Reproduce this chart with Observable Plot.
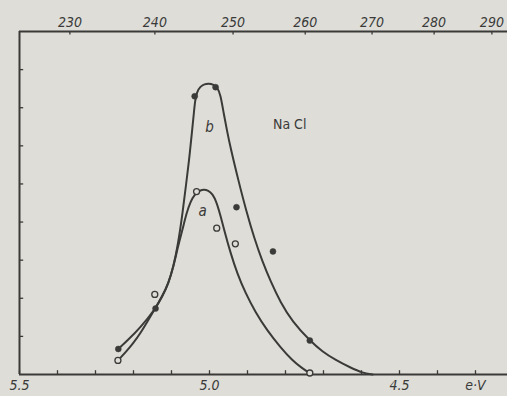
<!DOCTYPE html>
<html>
<head>
<meta charset="utf-8">
<script src="https://cdn.jsdelivr.net/npm/d3@7"></script>
<script src="https://cdn.jsdelivr.net/npm/@observablehq/plot@0.6"></script>
<style>
  html, body { margin: 0; padding: 0; background: #deddd8; }
  #chart { width: 507px; height: 396px; }
</style>
</head>
<body>
<div id="chart"></div>
<script>
// ---- data ----
// measured points, curve b (filled dots): photon energy (eV), intensity (arb. units)
const bEnergy = [5.240, 5.142, 5.039, 4.984, 4.929, 4.833, 4.736];
const bValue  = [0.67, 1.73, 7.30, 7.54, 4.39, 3.23, 0.89];
// measured points, curve a (open circles)
const aEnergy = [5.241, 5.144, 5.034, 4.981, 4.932, 4.736];
const aValue  = [0.37, 2.10, 4.80, 3.84, 3.43, 0.04];

// drawn smooth curve b
const bCurveEnergy = [5.240, 5.216, 5.182, 5.142, 5.124, 5.108, 5.095, 5.083, 5.071, 5.061, 5.053, 5.046, 5.041, 5.038, 5.033, 5.024, 5.013, 5.003, 4.989, 4.979, 4.971, 4.963, 4.954, 4.945, 4.924, 4.903, 4.882, 4.861, 4.839, 4.813, 4.782, 4.736, 4.703, 4.668, 4.629, 4.597, 4.571];
const bCurveValue  = [0.67, 0.89, 1.23, 1.73, 2.05, 2.39, 2.83, 3.41, 4.22, 5.04, 5.69, 6.38, 6.87, 7.19, 7.42, 7.56, 7.62, 7.64, 7.61, 7.53, 7.34, 6.87, 6.40, 5.96, 5.09, 4.28, 3.57, 2.97, 2.44, 1.89, 1.39, 0.89, 0.60, 0.38, 0.18, 0.04, 0.0];
// drawn smooth curve a
const aCurveEnergy = [5.241, 5.221, 5.200, 5.182, 5.164, 5.142, 5.124, 5.108, 5.095, 5.083, 5.071, 5.061, 5.050, 5.039, 5.029, 5.016, 5.003, 4.992, 4.982, 4.971, 4.961, 4.945, 4.927, 4.905, 4.879, 4.848, 4.813, 4.782, 4.758, 4.737];
const aCurveValue  = [0.37, 0.58, 0.83, 1.08, 1.38, 1.75, 2.06, 2.40, 2.82, 3.36, 3.80, 4.22, 4.54, 4.72, 4.81, 4.86, 4.83, 4.74, 4.54, 4.17, 3.78, 3.20, 2.65, 2.13, 1.63, 1.15, 0.71, 0.37, 0.18, 0.04];

// axis ticks
const bottomTicks = [5.5, 5.4, 5.3, 5.2, 5.1, 5.0, 4.9, 4.8, 4.7, 4.6, 4.5, 4.4, 4.3];
const bottomLabelTicks = [5.5, 5.0, 4.5, 4.3];
const bottomLabels = ["5.5", "5.0", "4.5", "e·V"];
const topWavelengths = [230, 240, 250, 260, 270, 280, 290]; // nm
const leftTicks = [1, 2, 3, 4, 5, 6, 7, 8];

// in-plot annotations
const noteText = ["b", "a", "Na Cl"];
const noteEnergy = [5.0, 5.018, 4.789];
const noteValue = [6.48, 4.28, 6.57];
const noteItalic = [true, true, false];

// ---- build tables ----
const hc = 1234.5; // eV·nm (12345 eV·Å)
const topTicks = topWavelengths.map(l => hc / l);
const bPts = bEnergy.map((e, i) => ({e, v: bValue[i]}));
const aPts = aEnergy.map((e, i) => ({e, v: aValue[i]}));
const bCurve = bCurveEnergy.map((e, i) => ({e, v: bCurveValue[i]}));
const aCurve = aCurveEnergy.map((e, i) => ({e, v: aCurveValue[i]}));
const notes = noteText.map((t, i) => ({t, e: noteEnergy[i], v: noteValue[i], it: noteItalic[i]}));

const ink = "#3a3a38";
const bg = "#deddd8";
const font = "'DejaVu Sans Condensed', 'DejaVu Sans', sans-serif";

const chart = Plot.plot({
  width: 507,
  height: 396,
  marginLeft: 19,
  marginRight: 0,
  marginTop: 31,
  marginBottom: 22,
  style: {background: bg, color: ink, fontFamily: font},
  x: {domain: [5.5, 4.2158], axis: null, label: null},
  y: {domain: [0, 9], axis: null, label: null},
  marks: [
    // frame
    Plot.ruleX([5.5], {y1: 0, y2: 9, stroke: ink, strokeWidth: 2}),
    Plot.ruleY([0, 9], {x1: 5.5, x2: 4.2158, stroke: ink, strokeWidth: 2}),
    // inward ticks
    Plot.ruleX(bottomTicks, {x: d => d, y1: 0, y2: 0.1, stroke: ink, strokeWidth: 1.3}),
    Plot.ruleX(topTicks, {x: d => d, y1: 9, y2: 8.91, stroke: ink, strokeWidth: 1.3}),
    Plot.ruleY(leftTicks, {y: d => d, x1: 5.5, x2: 5.489, stroke: ink, strokeWidth: 1.3}),
    // axis labels
    Plot.axisX(bottomLabelTicks, {anchor: "bottom", label: null, tickSize: 0, tickPadding: 6,
      tickFormat: d => bottomLabels[bottomLabelTicks.indexOf(d)],
      fontSize: 14, fontStyle: "italic", fill: ink}),
    Plot.axisX(topTicks, {anchor: "top", label: null, tickSize: 0, tickPadding: 5,
      tickFormat: d => String(Math.round(hc / d)),
      fontSize: 14, fontStyle: "italic", fill: ink}),
    // curves
    Plot.line(aCurve, {x: "e", y: "v", curve: "basis", stroke: ink, strokeWidth: 2}),
    Plot.line(bCurve, {x: "e", y: "v", curve: "basis", stroke: ink, strokeWidth: 2}),
    // measured points
    Plot.dot(bPts, {x: "e", y: "v", r: 3, fill: ink, stroke: ink, strokeWidth: 0.5}),
    Plot.dot(aPts, {x: "e", y: "v", r: 3, fill: bg, stroke: ink, strokeWidth: 1.3}),
    // annotations
    Plot.text(notes.filter(d => d.it), {x: "e", y: "v", text: "t", fontSize: 15, fontStyle: "italic", fill: ink}),
    Plot.text(notes.filter(d => !d.it), {x: "e", y: "v", text: "t", fontSize: 14, fill: ink})
  ]
});
document.getElementById("chart").appendChild(chart);
</script>
</body>
</html>
